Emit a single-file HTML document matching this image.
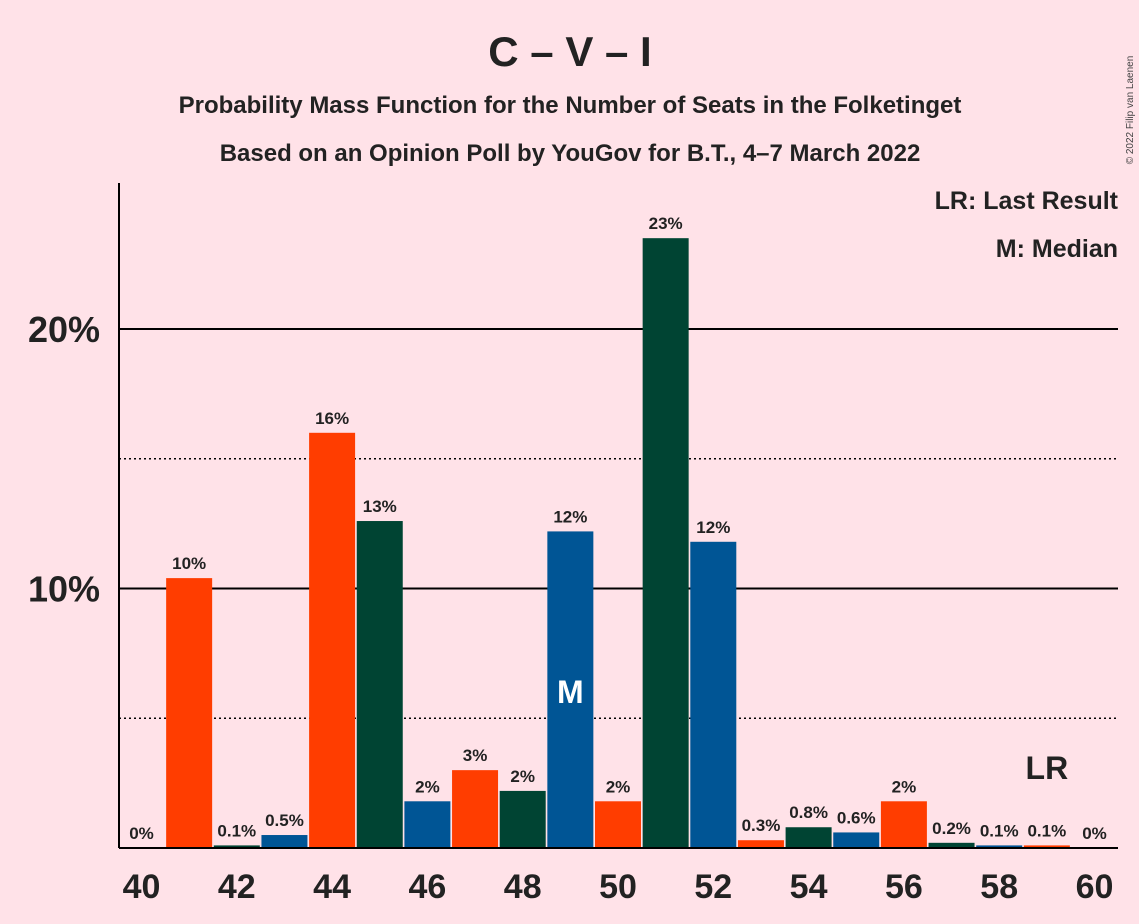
<!DOCTYPE html>
<html><head><meta charset="utf-8"><style>
body{margin:0;background:#FFE2E8;}
svg{display:block;font-family:"Liberation Sans",sans-serif;}
</style></head><body>
<svg id="c" width="1139" height="924" viewBox="0 0 1139 924">
<rect width="1139" height="924" fill="#FFE2E8"/>
<text x="570" y="66" text-anchor="middle" font-size="42" font-weight="bold" fill="#222">C – V – I</text>
<text x="570" y="113" text-anchor="middle" font-size="24" font-weight="bold" fill="#222">Probability Mass Function for the Number of Seats in the Folketinget</text>
<text x="570" y="161" text-anchor="middle" font-size="24" font-weight="bold" fill="#222">Based on an Opinion Poll by YouGov for B.T., 4–7 March 2022</text>
<text x="1133" y="110" font-size="10" fill="#444" transform="rotate(-90 1133 110)" text-anchor="middle">© 2022 Filip van Laenen</text>
<text x="1118" y="209" text-anchor="end" font-size="25" font-weight="bold" fill="#222">LR: Last Result</text>
<text x="1118" y="257" text-anchor="end" font-size="25" font-weight="bold" fill="#222">M: Median</text>
<g id="grid"></g>
<g id="bars"></g>
<g id="axes"></g>
</svg>
<script>
const seats=[40,41,42,43,44,45,46,47,48,49,50,51,52,53,54,55,56,57,58,59,60];
const values=[0,10.4,0.1,0.5,16.0,12.6,1.8,3.0,2.2,12.2,1.8,23.5,11.8,0.3,0.8,0.6,1.8,0.2,0.1,0.1,0];
const valueLabels=["0%","10%","0.1%","0.5%","16%","13%","2%","3%","2%","12%","2%","23%","12%","0.3%","0.8%","0.6%","2%","0.2%","0.1%","0.1%","0%"];
const xTicks=[40,42,44,46,48,50,52,54,56,58,60];
const yTicks=[10,20];
const yDotted=[5,15];
const medianSeat=49, lastResultSeat=59;
const colors=["#FF3D00","#004433","#005595"];
const NS="http://www.w3.org/2000/svg";
const x=s=>141.5+(s-40)*47.65;
const y=v=>848-v*25.95;
function mk(t,a,p){const e=document.createElementNS(NS,t);for(const k in a)e.setAttribute(k,a[k]);p.appendChild(e);return e;}
const grid=document.getElementById('grid'),bars=document.getElementById('bars'),axes=document.getElementById('axes');
yTicks.forEach(v=>{
 const l=mk('line',{x1:119,x2:1118,y1:y(v),y2:y(v),stroke:'#000','stroke-width':2},grid);
 
 
 const t=mk('text',{x:100,y:y(v)+13,'text-anchor':'end','font-size':36,'font-weight':'bold',fill:'#222'},axes);
 t.textContent=v+'%';
 
 
});
yDotted.forEach(v=>{
 const l=mk('line',{x1:119,x2:1118,y1:y(v),y2:y(v),stroke:'#000','stroke-width':1.5,'stroke-dasharray':'2,3'},grid);
 
 
});
seats.forEach((s,i)=>{
 const v=values[i];
 const c=colors[((s-41)%3+3)%3];
 if(v>0){
  const r=mk('rect',{x:x(s)-23,y:y(v),width:46,height:848-y(v),fill:c},bars);
  
  
 }
 const t=mk('text',{x:x(s),y:y(v)-9,'text-anchor':'middle','font-size':17,'font-weight':'bold',fill:'#222'},bars);
 t.textContent=valueLabels[i];
 
 
});
const m=mk('text',{x:x(medianSeat),y:703,'text-anchor':'middle','font-size':32,'font-weight':'bold',fill:'#fff'},bars);
m.textContent='M';


const lr=mk('text',{x:x(lastResultSeat),y:779,'text-anchor':'middle','font-size':32,'font-weight':'bold',fill:'#222'},bars);
lr.textContent='LR';


const ax=mk('line',{x1:119,x2:1118,y1:848,y2:848,stroke:'#000','stroke-width':2},axes);


const ay=mk('line',{x1:119,x2:119,y1:183,y2:848,stroke:'#000','stroke-width':2},axes);


xTicks.forEach(s=>{
 const t=mk('text',{x:x(s),y:898,'text-anchor':'middle','font-size':34,'font-weight':'bold',fill:'#222'},axes);
 t.textContent=s;
 
 
});
</script>
</body></html>
